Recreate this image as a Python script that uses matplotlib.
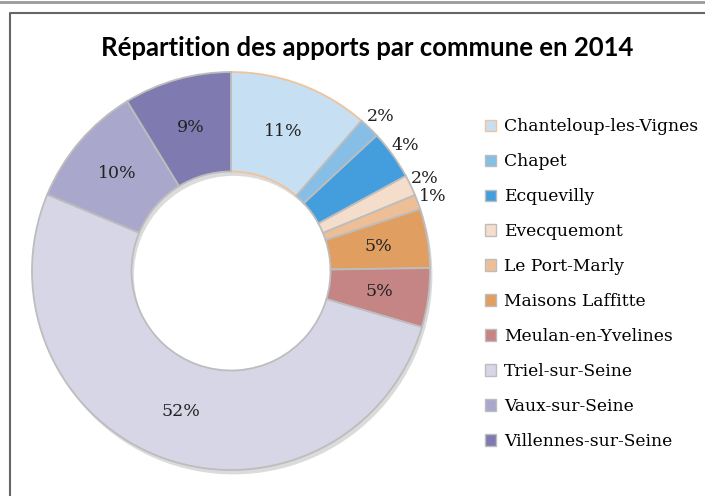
import matplotlib
matplotlib.use("Agg")
import matplotlib.pyplot as plt
import numpy as np
from matplotlib.lines import Line2D
from matplotlib.patches import Patch

communes = ["Chanteloup-les-Vignes", "Chapet", "Ecquevilly", "Evecquemont",
            "Le Port-Marly", "Maisons Laffitte", "Meulan-en-Yvelines",
            "Triel-sur-Seine", "Vaux-sur-Seine", "Villennes-sur-Seine"]
shares = [11.4, 1.7, 4.0, 1.7, 1.2, 4.8, 4.8, 51.8, 10.0, 8.75]
colors = ["#C6DFF2", "#86BEE6", "#449EDE", "#F5DDCC", "#EEBF97",
          "#E09E60", "#C58585", "#D7D6E6", "#A9A8CC", "#7F7BB0"]
outside = [False, True, True, True, True, False, False, False, False, False]
title = "Répartition des apports par commune en 2014"

W, H = 705, 496
fig = plt.figure(figsize=(W / 100, H / 100), dpi=100)

cx, cy, R = 231, 271, 199
lim = 1.1
side = 2 * lim * R
ax = fig.add_axes([(cx - side / 2) / W, (H - cy - side / 2) / H, side / W, side / H])

# shadow ring
ax.pie([1], radius=1.0, colors=["#9a9a9a"], startangle=90, center=(0.012, -0.022),
       wedgeprops=dict(width=0.5, edgecolor="none", alpha=0.35), frame=True)
wedges, _ = ax.pie(shares, colors=colors, startangle=90, counterclock=False,
                   radius=1.0, wedgeprops=dict(width=0.5, edgecolor="#BDBDBD", linewidth=1.3),
                   frame=True)
wedges[0].set_edgecolor("#EFC39B")
ax.set_xlim(-lim, lim)
ax.set_ylim(-lim, lim)
ax.set_aspect("equal")
ax.axis("off")

serif = ["DejaVu Serif"]
total = sum(shares)
for w, v, out in zip(wedges, shares, outside):
    ang = np.deg2rad((w.theta1 + w.theta2) / 2)
    r = 1.08 if out else 0.75
    ax.text(r * np.cos(ang), r * np.sin(ang), f"{round(v / total * 100):.0f}%",
            ha="center", va="center", fontsize=12.5, family=serif, color="#222222")

fig.text(367 / W, 1 - 48 / H, title, ha="center", va="center", fontsize=18.5,
         fontweight="bold", family=["Lato", "DejaVu Sans"])

handles = [Patch(facecolor=c, edgecolor="#BDBDBD" if i else "#EFC39B", linewidth=1)
           for i, c in enumerate(colors)]
leg = fig.legend(handles, communes, loc="upper left",
                 bbox_to_anchor=(470 / W, 1 - 103 / H), frameon=False,
                 prop=dict(family="DejaVu Serif", size=12.3),
                 handlelength=0.65, handleheight=0.65, handletextpad=0.45,
                 labelspacing=1.05)

# frame lines
fig.add_artist(Line2D([0, 1], [1 - 2 / H, 1 - 2 / H], color="#9a9a9a", lw=2))
fig.add_artist(Line2D([10 / W, 10 / W, 1], [0, 1 - 13 / H, 1 - 13 / H], color="#666666", lw=1.5))

fig.savefig("out.png", dpi=100)
